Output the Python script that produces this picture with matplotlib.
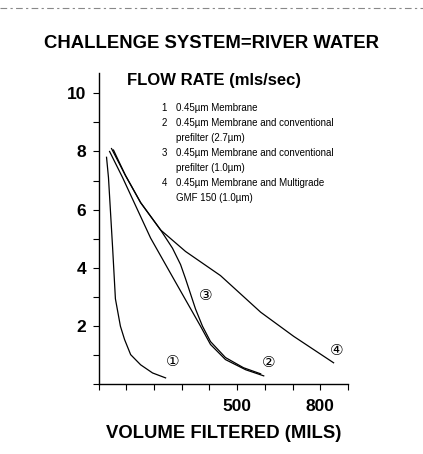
import matplotlib
matplotlib.use("Agg")
import matplotlib.pyplot as plt
from matplotlib.lines import Line2D
from matplotlib.ticker import MultipleLocator

plt.rcParams['font.family'] = ['Liberation Sans', 'DejaVu Sans']

title = "CHALLENGE SYSTEM=RIVER WATER"
ylabel_text = "FLOW RATE (mls/sec)"
xlabel_text = "VOLUME FILTERED (MILS)"

x1 = [29, 36, 51, 61, 79, 94, 116, 152, 195, 242]
y1 = [7.8, 7.1, 4.67, 2.93, 1.99, 1.53, 1.01, 0.66, 0.38, 0.21]

x2 = [40, 87, 188, 271, 368, 404, 458, 531, 596]
y2 = [8.0, 7.1, 5.02, 3.62, 1.99, 1.36, 0.84, 0.49, 0.28]

x3 = [54, 97, 152, 224, 267, 296, 314, 350, 375, 404, 458, 523, 585]
y3 = [8.05, 7.18, 6.24, 5.3, 4.67, 4.11, 3.62, 2.58, 1.99, 1.46, 0.91, 0.56, 0.35]

x4 = [47, 97, 152, 224, 314, 440, 585, 704, 848]
y4 = [8.1, 7.18, 6.24, 5.3, 4.56, 3.73, 2.47, 1.64, 0.73]

curve_labels = ["①", "②", "③", "④"]
label_x = [267, 614, 386, 859]
label_y = [0.77, 0.73, 3.03, 1.15]

legend_lines = [
    ("1", "0.45µm Membrane"),
    ("2", "0.45µm Membrane and conventional"),
    ("", "prefilter (2.7µm)"),
    ("3", "0.45µm Membrane and conventional"),
    ("", "prefilter (1.0µm)"),
    ("4", "0.45µm Membrane and Multigrade"),
    ("", "GMF 150 (1.0µm)"),
]

xticks = [500, 800]
yticks = [2, 4, 6, 8, 10]

W, H = 423, 454
fig = plt.figure(figsize=(W / 100, H / 100), dpi=100)
ax = fig.add_axes([98.5 / W, 1 - 384 / H, 249.5 / W, 311 / H])

for xs, ys in [(x1, y1), (x2, y2), (x3, y3), (x4, y4)]:
    ax.plot(xs, ys, color='black', lw=0.9)

for lab, lx, ly in zip(curve_labels, label_x, label_y):
    ax.text(lx, ly, lab, fontsize=11, ha='center', va='center',
            family=['DejaVu Sans'])

ax.set_xlim(0, 900)
ax.set_ylim(0, 10.7)
ax.set_xticks(xticks)
ax.set_yticks(yticks)
ax.xaxis.set_minor_locator(MultipleLocator(100))
ax.yaxis.set_minor_locator(MultipleLocator(1))
ax.tick_params(axis='both', which='both', direction='out', length=4, width=0.8)
ax.tick_params(axis='x', which='major', labelsize=12.5, pad=7)
ax.tick_params(axis='y', which='major', labelsize=12.5, pad=5)
for t in ax.get_xticklabels() + ax.get_yticklabels():
    t.set_fontweight('bold')
for s in ['top', 'right']:
    ax.spines[s].set_visible(False)
ax.spines['left'].set_linewidth(1.0)
ax.spines['bottom'].set_linewidth(1.0)

ax.set_xlabel(xlabel_text, fontsize=13.3, fontweight='bold', labelpad=8)

fig.text(0.5, 1 - 43 / H, title, fontsize=13.3, fontweight='bold', ha='center', va='center')
fig.text(127 / W, 1 - 81 / H, ylabel_text, fontsize=12, fontweight='bold', ha='left', va='center')

for i, (num, txt) in enumerate(legend_lines):
    yy = 1 - (108 + 15 * i) / H
    if num:
        fig.text(164 / W, yy, num, fontsize=7, ha='center', va='center')
    fig.text(176 / W, yy, txt, fontsize=7, ha='left', va='center')

fig.add_artist(Line2D([0.0, 1.0], [1 - 8 / H, 1 - 8 / H], color='#888888', lw=0.8,
                      linestyle=(0, (6, 3, 2, 3))))

fig.savefig("out.png", dpi=100)
